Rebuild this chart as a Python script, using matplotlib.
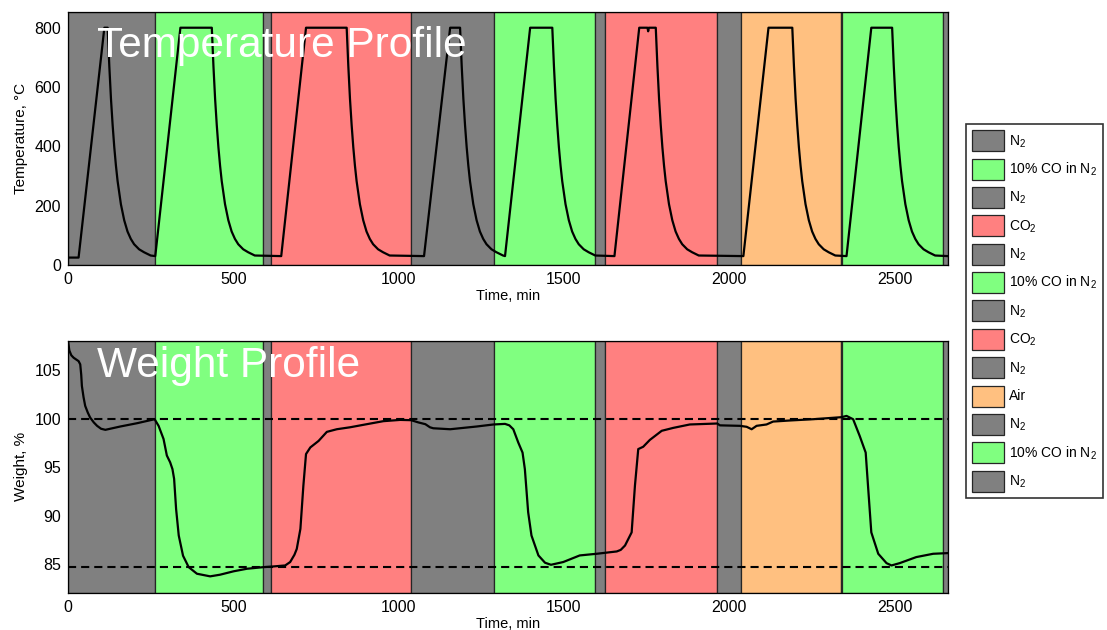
import numpy as np
import matplotlib
matplotlib.use("Agg")
import matplotlib.pyplot as plt
from matplotlib.patches import Patch

plt.rcParams["font.family"] = ["Liberation Sans", "DejaVu Sans"]
plt.rcParams["mathtext.fontset"] = "custom"
plt.rcParams["mathtext.rm"] = "Liberation Sans"
plt.rcParams["mathtext.it"] = "Liberation Sans:italic"
plt.rcParams["mathtext.bf"] = "Liberation Sans:bold"

# ---- gas atmosphere schedule (minutes) ----
seg_edges = [0, 262, 591, 614, 1038, 1289, 1594, 1625, 1964, 2036, 2338, 2342, 2647, 2662]
seg_gas = ["N2", "CO", "N2", "CO2", "N2", "CO", "N2", "CO2", "N2", "Air", "N2", "CO", "N2"]
gas_colors = {"N2": "#808080", "CO": "#80ff80", "CO2": "#ff8080", "Air": "#ffc080"}
gas_labels = {"N2": r"N$_2$", "CO": r"10% CO in N$_2$", "CO2": r"CO$_2$", "Air": "Air"}

# ---- temperature programme ----
t_start = 0
T_initial = 25
T_base = 30
T_hold = 800
ramp_start = [32, 264, 645, 1077, 1322, 1653, 2043, 2355]
ramp_end = [110, 340, 720, 1156, 1398, 1728, 2119, 2430]
hold_end = [120, 435, 843, 1186, 1465, 1778, 2191, 2493]
# furnace cool-down after each hold (minutes after hold end, degC)
cool_dt = [0, 5, 10, 15, 20, 25, 30, 40, 50, 60, 70, 80, 95, 110, 130]
cool_T = [800, 670, 560, 472, 397, 335, 283, 205, 151, 113, 88, 70, 53, 43, 32]
# brief thermocouple dip during the sixth hold
dip_t = [1753, 1755, 1757]
dip_T = [800, 788, 800]

# ---- sample weight, % ----
weight_t = [0, 4, 10, 17, 32, 37, 40, 42, 47, 52, 60, 67, 78, 88, 100, 113, 158, 209, 262,
            274, 289, 299, 309, 316, 321, 327, 335, 348, 365, 390, 430, 460, 501, 541, 592,
            622, 657, 672, 685, 692, 703, 712, 720, 733, 758, 783, 813, 853, 904, 954, 1005,
            1038, 1060, 1081, 1095, 1105, 1156, 1236, 1287, 1322, 1335, 1347, 1362, 1375,
            1382, 1392, 1402, 1423, 1443, 1461, 1498, 1548, 1599, 1660, 1672, 1685, 1705,
            1715, 1725, 1740, 1760, 1796, 1831, 1881, 1964, 1972, 2033, 2053, 2068, 2083,
            2113, 2133, 2184, 2254, 2340, 2355, 2375, 2395, 2413, 2420, 2430, 2451, 2476,
            2491, 2516, 2566, 2617, 2662]
weight_w = [108.0, 107.0, 106.5, 106.25, 105.9, 105.57, 104.5, 103.35, 102.2, 101.3, 100.6,
            100.1, 99.6, 99.25, 98.95, 98.84, 99.18, 99.52, 99.93,
            99.25, 97.9, 96.2, 95.5, 94.8, 93.8, 90.7, 87.98, 85.9, 84.73, 84.05, 83.78,
            83.95, 84.3, 84.56, 84.73,
            84.8, 84.9, 85.25, 86.0, 86.6, 88.66, 93.1, 96.35, 97.03, 97.7, 98.63, 98.9,
            99.1, 99.42, 99.73, 99.86,
            99.83, 99.6, 99.42, 99.1, 99.0, 98.9, 99.18, 99.39, 99.45, 99.3, 98.9, 97.54,
            96.5, 94.8, 90.37, 87.98, 85.93, 85.18, 84.97, 85.25, 85.93, 86.1, 86.34, 86.5,
            86.95, 88.3, 93.1, 96.86, 97.1, 97.8, 98.74, 99.04, 99.39, 99.49, 99.3, 99.25,
            99.15, 98.9, 99.25, 99.39, 99.69, 99.8, 99.93, 100.14, 100.27, 99.93, 98.2, 96.5,
            93.1, 88.3, 86.1, 85.14, 84.9, 85.14, 85.76, 86.1, 86.17]

ref_weights = [100.0, 84.7]

# assemble the temperature trace from the programme breakpoints
temp_t = [t_start]
temp_T = [T_initial]
for i in range(len(ramp_start)):
    temp_t += [ramp_start[i], ramp_end[i]]
    temp_T += [T_initial if i == 0 else T_base, T_hold]
    if dip_t[0] > ramp_end[i] and dip_t[-1] < hold_end[i]:
        temp_t += dip_t
        temp_T += dip_T
    temp_t.append(hold_end[i])
    temp_T.append(T_hold)
    limit = ramp_start[i + 1] if i + 1 < len(ramp_start) else seg_edges[-1]
    for dt, T in zip(cool_dt[1:], cool_T[1:]):
        if hold_end[i] + dt < limit:
            temp_t.append(hold_end[i] + dt)
            temp_T.append(T)
temp_t.append(seg_edges[-1])
temp_T.append(T_base)

W, H = 1107, 630
fig = plt.figure(figsize=(W / 100, H / 100), dpi=100)
ax1 = fig.add_axes([68 / W, 1 - 265 / H, 880 / W, 253 / H])
ax2 = fig.add_axes([68 / W, 1 - 592.7 / H, 880 / W, 252 / H])


def shade(ax):
    for x0, x1, g in zip(seg_edges[:-1], seg_edges[1:], seg_gas):
        ax.axvspan(x0, x1, facecolor=gas_colors[g], edgecolor="#262626",
                   linewidth=0.9, zorder=0)


for ax in (ax1, ax2):
    shade(ax)
    ax.set_xlim(seg_edges[0], seg_edges[-1])
    ax.set_xticks([0, 500, 1000, 1500, 2000, 2500])
    ax.tick_params(length=0, labelsize=11.5, pad=5)
    for s in ax.spines.values():
        s.set_linewidth(0.9)
        s.set_color("black")
        s.set_zorder(5)
    ax.set_xlabel("Time, min", fontsize=10.5, labelpad=1.5)

ax1.plot(temp_t, temp_T, color="black", lw=1.6, zorder=3)
ax1.set_ylim(0, 853)
ax1.set_yticks([0, 200, 400, 600, 800])
ax1.set_ylabel("Temperature, \u00b0C", fontsize=11)
ax1.yaxis.set_label_coords(-0.045, 0.5)
ax1.text(0.033, 0.822, "Temperature Profile", transform=ax1.transAxes,
         color="white", fontsize=30.5, va="baseline", ha="left", zorder=4)

ax2.plot(weight_t, weight_w, color="black", lw=1.6, zorder=3)
for yv in ref_weights:
    ax2.axhline(yv, color="black", lw=1.5, ls=(0, (3.9, 2.4)), zorder=2)
ax2.set_ylim(82.1, 108.0)
ax2.set_yticks([85, 90, 95, 100, 105])
ax2.set_ylabel("Weight, %", fontsize=11)
ax2.yaxis.set_label_coords(-0.045, 0.5)
ax2.text(0.033, 0.857, "Weight Profile", transform=ax2.transAxes,
         color="white", fontsize=30.5, va="baseline", ha="left", zorder=4)

handles = [Patch(facecolor=gas_colors[g], edgecolor="#262626", linewidth=0.9,
                 label=gas_labels[g]) for g in seg_gas]
leg = fig.legend(handles=handles, loc="upper left",
                 bbox_to_anchor=(966 / W, 1 - 124 / H), bbox_transform=fig.transFigure,
                 borderaxespad=0, fontsize=10, frameon=True, fancybox=False,
                 handlelength=2.3, handleheight=1.95, handletextpad=0.35,
                 labelspacing=0.53, borderpad=0.45)
leg.get_frame().set_edgecolor("black")
leg.get_frame().set_linewidth(1.2)

fig.savefig("out.png", dpi=100)
